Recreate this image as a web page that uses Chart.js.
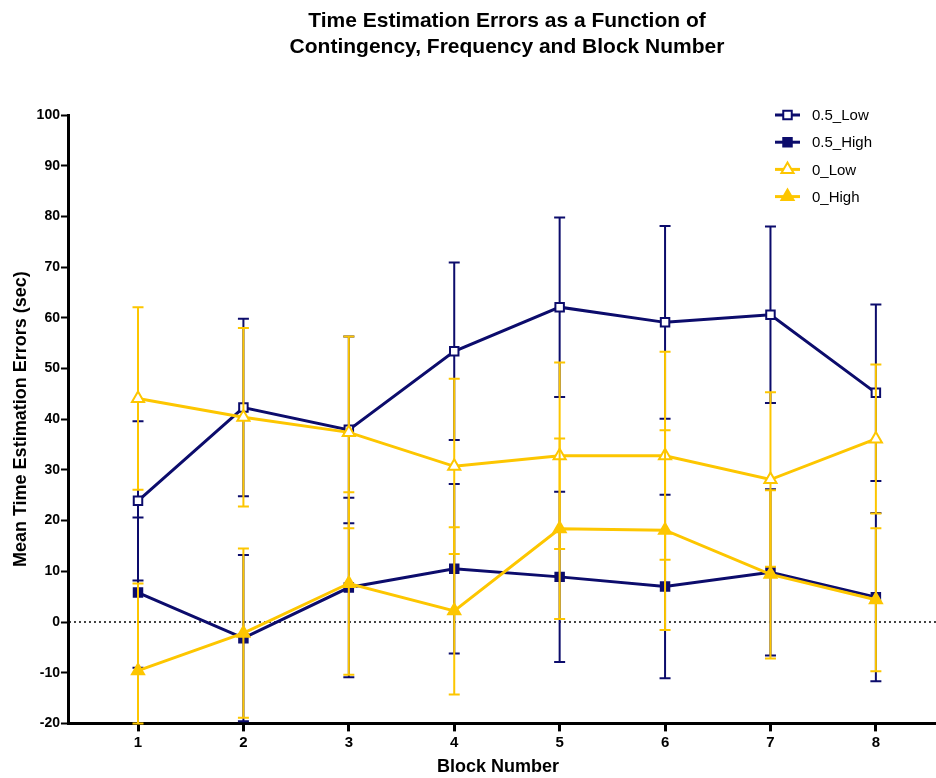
<!DOCTYPE html>
<html>
<head>
<meta charset="utf-8">
<title>Time Estimation Errors</title>
<script src="https://cdn.jsdelivr.net/npm/chart.js@4.4.1/dist/chart.umd.min.js"></script>
<style>
  html, body { margin: 0; padding: 0; background: #ffffff; }
  #wrap { width: 936px; height: 778px; position: relative; }
</style>
</head>
<body>
<div id="wrap"><canvas id="chart" width="936" height="778"></canvas></div>
<script>
// Block numbers (x categories)
const blocks = [1, 2, 3, 4, 5, 6, 7, 8];

// Y axis tick values
const yTickValues = [-20, -10, 0, 10, 20, 30, 40, 50, 60, 70, 80, 90, 100];

// Series names
const seriesNames = ['0.5_Low', '0.5_High', '0_Low', '0_High'];

// Mean time estimation errors (sec) and their error bar half-widths
const meanHalfLow  = [23.9, 42.3, 37.9, 53.4, 62.1, 59.1, 60.6, 45.2];
const errHalfLow   = [15.7, 17.5, 18.4, 17.5, 17.7, 19.0, 17.4, 17.4];

const meanHalfHigh = [5.8, -3.2, 6.8, 10.5, 8.9, 7.0, 9.8, 4.9];
const errHalfHigh  = [14.8, 16.4, 17.7, 16.7, 16.8, 18.1, 16.4, 16.6];

const meanZeroLow  = [44.1, 40.4, 37.4, 30.7, 32.8, 32.8, 28.1, 36.1];
const errZeroLow   = [18.0, 17.6, 18.9, 17.3, 18.4, 20.5, 17.2, 14.7];

const meanZeroHigh = [-9.6, -2.2, 7.6, 2.2, 18.4, 18.1, 9.4, 4.4];
const errZeroHigh  = [17.2, 16.7, 18.0, 16.5, 17.8, 19.7, 16.6, 14.1];

const NAVY = '#0c0c6c';
const GOLD = '#fdc600';
const FONT = "'Liberation Sans', Arial, Helvetica, sans-serif";

const toPoints = (means) => means.map((v, i) => ({ x: blocks[i], y: v }));

function makeSeries(label, means, errs, color, style, filled, order) {
  return {
    label: label,
    data: toPoints(means),
    errors: errs,
    borderColor: color,
    backgroundColor: filled ? color : '#ffffff',
    pointBackgroundColor: filled ? color : '#ffffff',
    pointBorderColor: color,
    pointBorderWidth: 2,
    pointStyle: style,
    pointRadius: style === 'triangle' ? 7 : 6,
    pointHoverRadius: style === 'triangle' ? 7 : 6,
    borderWidth: 3,
    tension: 0,
    fill: false,
    order: order
  };
}

// Error bars, drawn under each series' own line and markers
const errorBars = {
  id: 'errorBars',
  beforeDatasetDraw(chart, args) {
    const ds = chart.data.datasets[args.index];
    if (!ds.errors) return;
    const { ctx, chartArea } = chart;
    const xs = chart.scales.x, ys = chart.scales.y;
    const cap = 5.5;
    const clampPx = (v) => Math.min(chartArea.bottom, Math.max(chartArea.top, ys.getPixelForValue(v)));
    ctx.save();
    ctx.strokeStyle = ds.borderColor;
    ctx.lineWidth = 2;
    ctx.lineCap = 'butt';
    ds.data.forEach((p, i) => {
      const e = ds.errors[i];
      const px = xs.getPixelForValue(p.x);
      const top = clampPx(p.y + e);
      const bot = clampPx(p.y - e);
      ctx.beginPath();
      ctx.moveTo(px, top); ctx.lineTo(px, bot);
      ctx.moveTo(px - cap, top); ctx.lineTo(px + cap, top);
      ctx.moveTo(px - cap, bot); ctx.lineTo(px + cap, bot);
      ctx.stroke();
    });
    ctx.restore();
  }
};

// Dotted reference line at zero, and the x axis line carried to the right edge
const zeroLine = {
  id: 'zeroLine',
  beforeDatasetsDraw(chart) {
    const { ctx, chartArea } = chart;
    const y = chart.scales.y.getPixelForValue(0);
    ctx.save();
    ctx.strokeStyle = '#000000';
    ctx.lineWidth = 1.6;
    ctx.setLineDash([2, 3]);
    ctx.beginPath();
    ctx.moveTo(chartArea.left, y);
    ctx.lineTo(chart.width, y);
    ctx.stroke();
    ctx.setLineDash([]);
    ctx.lineWidth = 3;
    const yb = Math.round(chart.scales.y.getPixelForValue(yTickValues[0])) + 0.5;
    ctx.beginPath();
    ctx.moveTo(chartArea.right - 1, yb);
    ctx.lineTo(chart.width, yb);
    ctx.stroke();
    ctx.restore();
  }
};

// Two-line title and the legend in the upper right of the plot
const titleLines = ['Time Estimation Errors as a Function of', 'Contingency, Frequency and Block Number'];

const decorations = {
  id: 'decorations',
  afterDraw(chart) {
    const { ctx, chartArea } = chart;
    ctx.save();
    // title
    ctx.fillStyle = '#000000';
    ctx.font = 'bold 21px ' + FONT;
    ctx.textAlign = 'center';
    ctx.textBaseline = 'middle';
    const cx = chart.width / 2 + 39;
    titleLines.forEach((t, i) => ctx.fillText(t, cx, 21 + i * 26));

    // legend
    const lx = chartArea.right - 152;
    const rowGap = 27.2;
    chart.data.datasets.forEach((ds, i) => {
      const y = chartArea.top + i * rowGap;
      ctx.strokeStyle = ds.borderColor;
      ctx.lineWidth = 3;
      ctx.setLineDash([]);
      ctx.beginPath();
      ctx.moveTo(lx, y);
      ctx.lineTo(lx + 25, y);
      ctx.stroke();
      ctx.fillStyle = ds.pointBackgroundColor;
      ctx.strokeStyle = ds.pointBorderColor;
      ctx.lineWidth = 2;
      Chart.helpers.drawPoint(ctx, {
        pointStyle: ds.pointStyle,
        radius: ds.pointRadius,
        rotation: 0,
        borderWidth: 2
      }, lx + 12.5, y);
      ctx.fillStyle = '#000000';
      ctx.font = '15px ' + FONT;
      ctx.textAlign = 'left';
      ctx.textBaseline = 'middle';
      ctx.fillText(ds.label, lx + 37, y + 1);
    });
    ctx.restore();
  }
};

const ctx = document.getElementById('chart').getContext('2d');
new Chart(ctx, {
  type: 'line',
  data: {
    datasets: [
      makeSeries(seriesNames[0], meanHalfLow,  errHalfLow,  NAVY, 'rect',     false, 4),
      makeSeries(seriesNames[1], meanHalfHigh, errHalfHigh, NAVY, 'rect',     true,  3),
      makeSeries(seriesNames[2], meanZeroLow,  errZeroLow,  GOLD, 'triangle', false, 2),
      makeSeries(seriesNames[3], meanZeroHigh, errZeroHigh, GOLD, 'triangle', true,  1)
    ]
  },
  options: {
    responsive: false,
    animation: false,
    events: [],
    layout: { padding: { top: 115, right: 0, bottom: 0, left: 10 } },
    plugins: {
      legend: { display: false },
      title: { display: false },
      tooltip: { enabled: false }
    },
    scales: {
      x: {
        type: 'linear',
        min: 0.345,
        max: 8.485,
        afterBuildTicks: (scale) => { scale.ticks = blocks.map(v => ({ value: v })); },
        grid: {
          display: true,
          drawOnChartArea: false,
          drawTicks: true,
          tickLength: 8,
          tickWidth: 3,
          tickColor: '#000000'
        },
        border: { display: true, color: '#000000', width: 3 },
        ticks: {
          color: '#000000',
          font: { family: FONT, size: 15, weight: 'bold' },
          padding: 2,
          maxRotation: 0,
          autoSkip: false
        },
        title: {
          display: true,
          text: 'Block Number',
          color: '#000000',
          font: { family: FONT, size: 18, weight: 'bold' },
          padding: { top: 3, bottom: 0 }
        }
      },
      y: {
        type: 'linear',
        min: yTickValues[0],
        max: yTickValues[yTickValues.length - 1],
        afterBuildTicks: (scale) => { scale.ticks = yTickValues.map(v => ({ value: v })); },
        grid: {
          display: true,
          drawOnChartArea: false,
          drawTicks: true,
          tickLength: 8,
          tickWidth: 2,
          tickColor: '#000000'
        },
        border: { display: true, color: '#000000', width: 3 },
        ticks: {
          color: '#000000',
          font: { family: FONT, size: 14, weight: 'bold' },
          padding: 1
        },
        title: {
          display: true,
          text: 'Mean Time Estimation Errors (sec)',
          color: '#000000',
          font: { family: FONT, size: 18, weight: 'bold' },
          padding: { top: 0, bottom: 4 }
        }
      }
    }
  },
  plugins: [zeroLine, errorBars, decorations]
});
</script>
</body>
</html>
